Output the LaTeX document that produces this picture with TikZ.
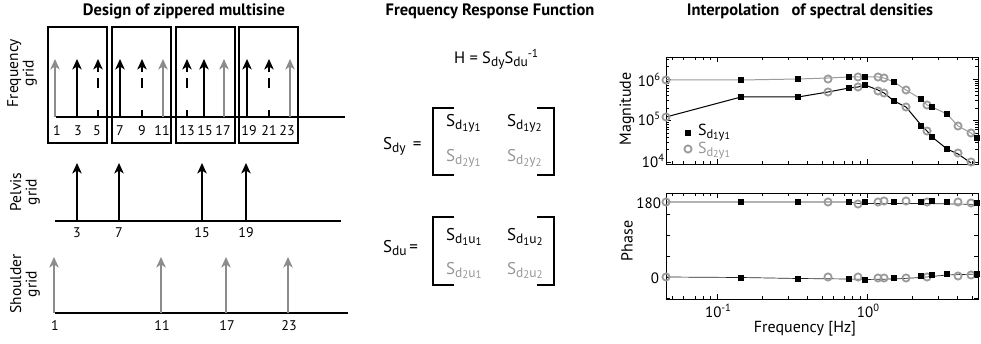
\documentclass[tikz,border=0pt]{standalone}
\usepackage{fontspec}
\setmainfont{PT Sans}
\usetikzlibrary{arrows.meta}

\definecolor{lgray}{RGB}{140,140,140}
\definecolor{mgray}{RGB}{150,150,150}
\definecolor{cgray}{RGB}{155,155,155}

\newcommand\fsz[1]{\fontsize{#1}{#1}\selectfont}
% S with a lowered subscript
\newcommand\Ssub[1]{S\raisebox{-3pt}{\fsz{13.5}#1}}
% S with two-level subscript, e.g. S_{d_1 y_1}
\newcommand\Sij[4]{S\raisebox{-3pt}{\fsz{13.5}#1\raisebox{-2pt}{\fsz{11}#2}#3\raisebox{-2pt}{\fsz{11}#4}}}
% compact variant for the plot legend
\newcommand\Sleg[4]{S\raisebox{-2.5pt}{\fsz{12.5}#1\raisebox{-1.5pt}{\fsz{10}#2}#3\raisebox{-1.5pt}{\fsz{10}#4}}}
\newcommand\tenpow[1]{10\raisebox{5.5pt}{\fsz{10.5}#1}}

\begin{document}
\begin{tikzpicture}[x=1pt,y=-1pt,
  every node/.style={inner sep=0pt,outer sep=0pt},
  title/.style={font=\fsz{16.5}\bfseries},
  lbl/.style={font=\fsz{15.5}},
  num/.style={font=\fsz{14}},
  tkl/.style={font=\fsz{15}},
  ent/.style={font=\fsz{17},anchor=base west},
  spec/.style={line width=1.4pt,-{Stealth[length=10.5pt,width=9.5pt,inset=3pt]}},
  gspec/.style={spec,lgray},
  dspec/.style={spec,dash pattern=on 7pt off 22pt on 10pt off 6pt},
  axisline/.style={line width=1.4pt},
  winbox/.style={line width=1.2pt},
  bracket/.style={line width=1.3pt},
  frame/.style={line width=0.9pt},
  tick/.style={line width=0.5pt},
  sqm/.style={fill=black},
  cim/.style={draw=cgray,line width=1.8pt},
]
\useasboundingbox (0,0) rectangle (981,344);

% ---------------- titles ----------------
\node[title] (t1) at (184,11) {Design of zippered multisine};
\node[title] (t2) at (490,11) {Frequency Response Function};
\node[title] (t3) at (810,11) {Interpolation\hspace{0.5em} of spectral densities};

% ---------------- grid labels ----------------
\node[lbl,rotate=90,align=center] (lf) at (22,73) {Frequency\\grid};
\node[lbl,rotate=90,align=center] (lp) at (25,192) {Pelvis\\grid};
\node[lbl,rotate=90,align=center] (ls) at (25,284) {Shoulder\\grid};

% ---------------- frequency grid ----------------
\foreach \a/\b in {48/107,112/171,176/235,239/298}
  \draw[winbox] (\a,27) rectangle (\b,143);
\draw[axisline] (56,117) -- (345,117);
\foreach \x/\s in {55/gspec,77/spec,98/dspec,120/spec,142/dspec,163/gspec,
                   187/dspec,204/spec,224/gspec,247/spec,269/dspec,290/gspec}
  \draw[\s] (\x,117) -- (\x,59);
\foreach \x/\t in {57/1,78/3,97/5,120/7,142/9,162/11,187/13,205/15,223/17,249/19,269/21,287/23}
  \node[num] (f\t) at (\x,131) {\t};

% ---------------- pelvis grid ----------------
\draw[axisline] (55,221) -- (341,221);
\foreach \x/\t in {77/3,119/7,202/15,246/19}{
  \draw[spec] (\x,221) -- (\x,163);
  \node[num] (p\t) at (\x,233) {\t};
}

% ---------------- shoulder grid ----------------
\draw[axisline] (55,313) -- (348,313);
\foreach \x/\t in {54/1,161/11,226/17,288/23}{
  \draw[gspec] (\x,313) -- (\x,257);
  \node[num] (s\t) at (\x+1,326) {\t};
}

% ---------------- frequency response function ----------------
\node[font=\fsz{16.5},anchor=base west] (H) at (454,64)
  {H = \Ssub{dy}\Ssub{du}\raisebox{6.5pt}{\fsz{11.5}-1}};

\node[font=\fsz{17},anchor=base west] (Sdy) at (383,150) {\Ssub{dy}\ \,=};
\draw[bracket] (454,108) -- (433,108) -- (433,175) -- (454,175);
\draw[bracket] (537,108) -- (554,108) -- (554,175) -- (537,175);
\node[ent] (m11) at (446,127) {\Sij{d}{1}{y}{1}};
\node[ent] (m12) at (507,127) {\Sij{d}{1}{y}{2}};
\node[ent,mgray] (m21) at (446,162) {\Sij{d}{2}{y}{1}};
\node[ent,mgray] (m22) at (507,162) {\Sij{d}{2}{y}{2}};

\node[font=\fsz{17},anchor=base west] (Sdu) at (383,253) {\Ssub{du}\,=};
\draw[bracket] (454,217) -- (433,217) -- (433,285) -- (454,285);
\draw[bracket] (537,217) -- (554,217) -- (554,285) -- (537,285);
\node[ent] (n11) at (446,241) {\Sij{d}{1}{u}{1}};
\node[ent] (n12) at (507,241) {\Sij{d}{1}{u}{2}};
\node[ent,mgray] (n21) at (446,274) {\Sij{d}{2}{u}{1}};
\node[ent,mgray] (n22) at (507,274) {\Sij{d}{2}{u}{2}};

% ---------------- magnitude plot ----------------
\draw[frame] (666,57) rectangle (978,164);
% log-frequency ticks (x = 867 + 150 log10 f)
\foreach \yb/\yt in {164/57,299/193}{
  \foreach \f in {0.05,0.06,0.07,0.08,0.09,0.2,0.3,0.4,0.5,0.6,0.7,0.8,0.9,2,3,4,5}{
    \pgfmathsetmacro\xx{867+150*log10(\f)}
    \draw[tick] (\xx,\yb) -- ++(0,-3);
    \draw[tick] (\xx,\yt) -- ++(0,3);
  }
  \foreach \f in {0.1,1}{
    \pgfmathsetmacro\xx{867+150*log10(\f)}
    \draw[tick] (\xx,\yb) -- ++(0,-5);
    \draw[tick] (\xx,\yt) -- ++(0,5);
  }
}
% log-magnitude ticks (y = 162 - 41.5 log10(v/1e4))
\foreach \d in {0,1,2}{
  \foreach \k in {2,...,9}{
    \pgfmathsetmacro\yy{162-41.5*(\d+log10(\k))}
    \pgfmathparse{\yy>58?1:0}
    \ifnum\pgfmathresult=1
      \draw[tick] (666,\yy) -- ++(3,0);
      \draw[tick] (978,\yy) -- ++(-3,0);
    \fi
  }
  \pgfmathsetmacro\yy{162-41.5*\d}
  \draw[tick] (666,\yy) -- ++(5,0);
  \draw[tick] (978,\yy) -- ++(-5,0);
}
\node[tkl,anchor=east] (m6) at (660,80) {\tenpow{6}};
\node[tkl,anchor=east] (m5) at (660,119) {\tenpow{5}};
\node[tkl,anchor=east] (m4) at (664,161) {\tenpow{4}};
\node[font=\fsz{16},rotate=90] (ymag) at (627,109) {Magnitude};

% interpolated curves
\draw[cgray,line width=1pt] (666,80) -- (741,80) -- (798,79) -- (828,78) -- (849,77) -- (858,77)
  -- (865,77) -- (878,77) -- (884,78) -- (894,82) -- (906,90) -- (921,99) -- (927,105)
  -- (932,107) -- (947,114) -- (958,126) -- (971,133) -- (977,138);
\draw[black,line width=1pt] (666,117) -- (741,97) -- (798,97) -- (828,92) -- (849,88) -- (858,87)
  -- (865,85) -- (878,90) -- (884,93) -- (894,101) -- (906,107) -- (921,125) -- (927,131)
  -- (932,137) -- (947,149) -- (958,154) -- (971,163);
\foreach \x/\y in {666/80,828/79,858/77,878/77,884/78,906/90,927/105,958/126,971/133,
                   666/117,828/92,858/87,878/91,884/93,906/107,927/131,958/153,971/162}
  \draw[cim] (\x,\y) circle (3.6pt);
\foreach \x/\y in {741/80,798/79,849/77,865/77,894/82,921/99,932/107,947/114,977/138,
                   741/97,798/97,849/88,865/85,894/101,921/126,932/137,947/149}
  \fill[sqm] (\x-2.8,\y-2.8) rectangle (\x+2.8,\y+2.8);

% legend
\fill[sqm] (685.2,130.2) rectangle (690.8,135.8);
\node[font=\fsz{16},anchor=base west] (lg1) at (698,136) {\Sleg{d}{1}{y}{1}};
\draw[cim] (688,149) circle (3.6pt);
\node[font=\fsz{16},anchor=base west,mgray] (lg2) at (698,154) {\Sleg{d}{2}{y}{1}};

% ---------------- phase plot ----------------
\draw[frame] (666,193) rectangle (978,299);
\foreach \v in {-50,0,50,100,150,200}{
  \pgfmathsetmacro\yy{277-\v*75/180}
  \draw[tick] (666,\yy) -- ++(4,0);
  \draw[tick] (978,\yy) -- ++(-4,0);
}
\node[tkl,anchor=east] (p180) at (661,203) {180};
\node[tkl,anchor=east] (p0) at (659,278) {0};
\node[font=\fsz{16},rotate=90] (yph) at (627,241) {Phase};

\draw[black!85,line width=0.7pt] (666,202) -- (741,202) -- (798,202) -- (849,202) -- (858,203.5)
  -- (878,203.5) -- (921,203.5) -- (958,204) -- (977,204.5);
\draw[black!85,line width=0.7pt] (666,277) -- (741,277.5) -- (798,278.5) -- (849,279) -- (865,279.5)
  -- (894,279) -- (921,277.5) -- (947,275) -- (977,274);
\foreach \x/\y in {666/202,828/202,858/204,878/202,884/201,906/201,927/202,958/202,971/203,
                   666/277,828/277,858/277,878/278,884/278,906/278,927/277,958/276,971/275}
  \draw[cim] (\x,\y) circle (3.6pt);
\foreach \x/\y in {741/202,798/202,849/202,865/202,894/202,921/202,932/201,947/202,977/203,
                   741/278,798/279,849/279,865/280,894/278,921/276,932/275,947/274,977/274}
  \fill[sqm] (\x-2.8,\y-2.8) rectangle (\x+2.8,\y+2.8);

\node[tkl] (x1) at (718,311) {\tenpow{-1}};
\node[tkl] (x0) at (868,311) {\tenpow{0}};
\node[font=\fsz{16}] (xl) at (805,329) {Frequency [Hz]};
\end{tikzpicture}
\end{document}
